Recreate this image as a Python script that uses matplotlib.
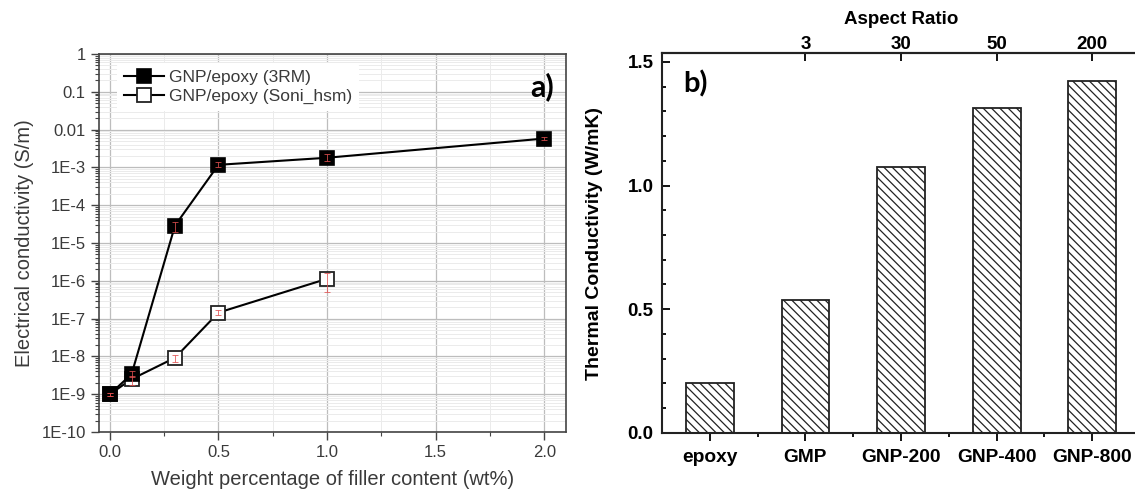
import matplotlib
matplotlib.use("Agg")
import matplotlib.pyplot as plt
import numpy as np
from matplotlib.ticker import LogLocator, FixedLocator, MultipleLocator, NullFormatter

plt.rcParams['hatch.linewidth'] = 0.9
plt.rcParams['hatch.color'] = '#3a3a3a'

# ---- Panel a data ----
wt_3rm = [0.0, 0.1, 0.3, 0.5, 1.0, 2.0]
sig_3rm = [1.0e-9, 3.4e-9, 2.9e-5, 1.17e-3, 1.8e-3, 5.8e-3]
err_lo_3rm = [0.1e-9, 0.5e-9, 1.0e-5, 0.15e-3, 0.3e-3, 0.6e-3]
err_hi_3rm = [0.1e-9, 0.6e-9, 0.6e-5, 0.25e-3, 0.4e-3, 0.7e-3]

wt_soni = [0.0, 0.1, 0.3, 0.5, 1.0]
sig_soni = [1.0e-9, 2.5e-9, 9.2e-9, 1.44e-7, 1.13e-6]
err_lo_soni = [0.1e-9, 0.7e-9, 2.0e-9, 0.2e-7, 0.63e-6]
err_hi_soni = [0.1e-9, 0.5e-9, 2.0e-9, 0.25e-7, 0.45e-6]

y_ticks_a = [1e-10, 1e-9, 1e-8, 1e-7, 1e-6, 1e-5, 1e-4, 1e-3, 1e-2, 1e-1, 1]
y_labels_a = ['1E-10', '1E-9', '1E-8', '1E-7', '1E-6', '1E-5', '1E-4', '1E-3', '0.01', '0.1', '1']
x_ticks_a = [0.0, 0.5, 1.0, 1.5, 2.0]

# ---- Panel b data ----
materials = ['epoxy', 'GMP', 'GNP-200', 'GNP-400', 'GNP-800']
thermal_k = [0.20, 0.537, 1.075, 1.313, 1.424]
aspect_ratio = ['3', '30', '50', '200']

W, H = 1135, 499
fig = plt.figure(figsize=(W / 100, H / 100), dpi=100)

# ================= Panel a =================
gray_txt = '#3a3a3a'
axa = fig.add_axes([99 / W, (H - 432) / H, 467 / W, 378 / H])
axa.set_yscale('log')
axa.set_xlim(-0.05, 2.1)
axa.set_ylim(1e-10, 1)

axa.yaxis.set_major_locator(FixedLocator(y_ticks_a))
axa.set_yticklabels(y_labels_a)
axa.yaxis.set_minor_locator(LogLocator(base=10, subs=np.arange(2, 10), numticks=100))
axa.yaxis.set_minor_formatter(NullFormatter())
axa.xaxis.set_major_locator(FixedLocator(x_ticks_a))
axa.set_xticklabels([f'{v:.1f}' for v in x_ticks_a])
axa.xaxis.set_minor_locator(MultipleLocator(0.25))

axa.grid(True, which='major', color='#bdbdbd', linewidth=0.9)
axa.grid(True, which='minor', color='#ebebeb', linewidth=0.7)
axa.set_axisbelow(True)

axa.plot(wt_3rm, sig_3rm, '-s', color='black', lw=1.5, ms=10,
         mfc='black', mec='black', mew=1.2, label='GNP/epoxy (3RM)', zorder=3)
axa.plot(wt_soni, sig_soni, '-s', color='black', lw=1.5, ms=10,
         mfc='white', mec='#222222', mew=1.3, label='GNP/epoxy (Soni_hsm)', zorder=2)
axa.errorbar(wt_3rm, sig_3rm, yerr=[err_lo_3rm, err_hi_3rm], fmt='none',
             ecolor='#e05050', elinewidth=0.7, capsize=2.5, capthick=0.7,
             alpha=0.8, zorder=4)
axa.errorbar(wt_soni, sig_soni, yerr=[err_lo_soni, err_hi_soni], fmt='none',
             ecolor='#e05050', elinewidth=0.7, capsize=2.5, capthick=0.7,
             alpha=0.8, zorder=4)

for s in axa.spines.values():
    s.set_color('#444444')
    s.set_linewidth(1.2)
axa.tick_params(axis='both', which='major', direction='out', length=6, width=1.0,
                colors='#444444', labelcolor=gray_txt, labelsize=12)
axa.tick_params(axis='both', which='minor', direction='out', length=3, width=0.8,
                colors='#444444')
for lab in axa.get_xticklabels() + axa.get_yticklabels():
    lab.set_fontfamily('Liberation Sans')
axa.set_xlabel('Weight percentage of filler content (wt%)', fontsize=14.5,
               color=gray_txt, family='Liberation Sans', labelpad=7)
axa.set_ylabel('Electrical conductivity (S/m)', fontsize=14.5,
               color=gray_txt, family='Liberation Sans', labelpad=5)

leg = axa.legend(loc='upper left', bbox_to_anchor=(0.02, 1.0),
                 frameon=True, facecolor='white', edgecolor='none', framealpha=1,
                 handlelength=2.3, handletextpad=0.3, borderpad=0.4, labelspacing=0.25,
                 prop={'family': 'Liberation Sans', 'size': 12.5})
for t in leg.get_texts():
    t.set_color(gray_txt)

axa.text(0.975, 0.913, 'a)', transform=axa.transAxes, ha='right', va='center',
         fontsize=22, fontweight='bold', family='Lato', color='black')

# ================= Panel b =================
axb = fig.add_axes([662 / W, (H - 432.7) / H, 478 / W, 379.4 / H])
xpos = np.arange(len(materials))
axb.bar(xpos, thermal_k, width=0.5, facecolor='white', edgecolor='#222222',
        linewidth=1.3, hatch='\\\\\\\\')
axb.set_xlim(-0.5, 4.5)
axb.set_ylim(0, 1.535)
axb.set_xticks(xpos)
axb.set_xticklabels(materials)
axb.xaxis.set_minor_locator(FixedLocator(xpos[:-1] + 0.5))
axb.yaxis.set_major_locator(MultipleLocator(0.5))
axb.yaxis.set_minor_locator(MultipleLocator(0.1))
axb.yaxis.set_major_formatter(matplotlib.ticker.FormatStrFormatter('%.1f'))

axb.spines['right'].set_visible(False)
for s in ['left', 'bottom', 'top']:
    axb.spines[s].set_linewidth(1.5)
    axb.spines[s].set_color('#222222')

axb.tick_params(axis='x', which='major', direction='out', length=6, width=1.3,
                labelsize=13.8, pad=6)
axb.tick_params(axis='x', which='minor', direction='out', length=3, width=1.3)
axb.tick_params(axis='y', which='major', direction='in', length=6, width=1.3,
                labelsize=13.5, pad=6)
axb.tick_params(axis='y', which='minor', direction='in', length=3, width=1.3)
for lab in axb.get_xticklabels() + axb.get_yticklabels():
    lab.set_fontweight('bold')
    lab.set_fontfamily('Liberation Sans')
axb.set_ylabel('Thermal Conductivity (W/mK)', fontsize=14, fontweight='bold',
               family='Liberation Sans', labelpad=18)

top = axb.secondary_xaxis('top')
top.set_xticks(xpos[1:])
top.set_xticklabels(aspect_ratio)
top.tick_params(axis='x', direction='in', length=6, width=1.3, labelsize=13.5, pad=0)
for lab in top.get_xticklabels():
    lab.set_fontweight('bold')
    lab.set_fontfamily('Liberation Sans')
top.spines['top'].set_linewidth(1.5)
top.set_xlabel('Aspect Ratio', fontsize=13.5, fontweight='bold',
               family='Liberation Sans', labelpad=9)

axb.text(0.045, 0.92, 'b)', transform=axb.transAxes, ha='left', va='center',
         fontsize=21, fontweight='bold', family='Lato')

fig.savefig('out.png', dpi=100)
